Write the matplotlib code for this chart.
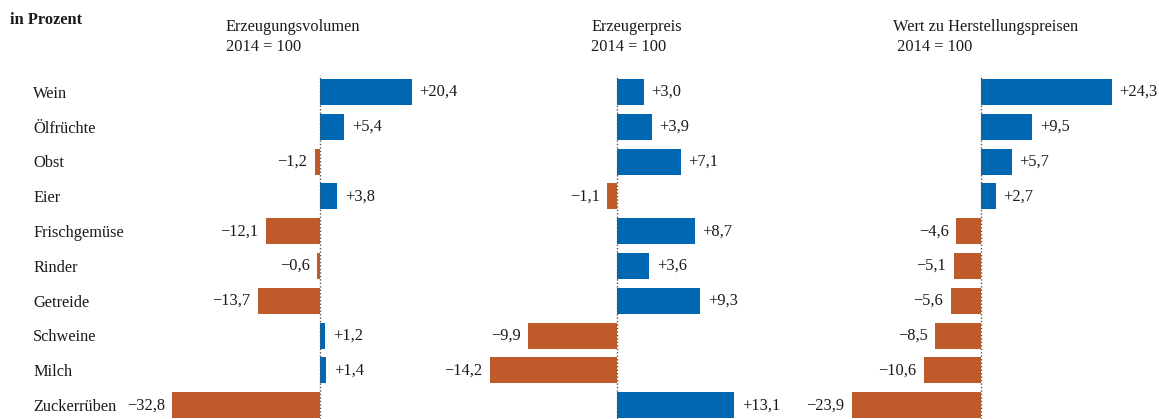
import matplotlib
matplotlib.use("Agg")
import matplotlib.pyplot as plt
import matplotlib.transforms as mtransforms

plt.rcParams["font.family"] = ["Liberation Serif", "DejaVu Serif"]

W, H = 1159, 419

categories = ["Wein", "Ölfrüchte", "Obst", "Eier", "Frischgemüse",
              "Rinder", "Getreide", "Schweine", "Milch", "Zuckerrüben"]
volumen = [20.4, 5.4, -1.2, 3.8, -12.1, -0.6, -13.7, 1.2, 1.4, -32.8]
preis = [3.0, 3.9, 7.1, -1.1, 8.7, 3.6, 9.3, -9.9, -14.2, 13.1]
wert = [24.3, 9.5, 5.7, 2.7, -4.6, -5.1, -5.6, -8.5, -10.6, -23.9]
titles = ["Erzeugungsvolumen\n2014 = 100", "Erzeugerpreis\n2014 = 100",
          "Wert zu Herstellungspreisen\n 2014 = 100"]

BLUE = "#0068b3"
ORANGE = "#bf5a2a"
TEXT = "#1a1a1a"
FS = 11.8

# zero position (px) and px per unit for each panel
panels = [(volumen, 320, 4.5, 226), (preis, 617, 8.95, 591), (wert, 981, 5.39, 893)]

ROW0, ROWSTEP = 92, 34.8
TOP, BOTTOM = 75, 419


def fmt(v):
    s = "{:.1f}".format(abs(v)).replace(".", ",")
    return ("+" if v > 0 else "\u2212") + s


fig = plt.figure(figsize=(W / 100, H / 100), dpi=100)

axes = []
for (vals, zero, scale, title_x), title in zip(panels, titles):
    left, right = zero - 160, zero + 160
    ax = fig.add_axes([left / W, 1 - BOTTOM / H, (right - left) / W, (BOTTOM - TOP) / H])
    ax.set_xlim((left - zero) / scale, (right - zero) / scale)
    ax.set_ylim((BOTTOM - ROW0) / ROWSTEP, -(ROW0 - TOP) / ROWSTEP)
    colors = [BLUE if v > 0 else ORANGE for v in vals]
    ax.barh(range(len(vals)), vals, height=0.75, color=colors, zorder=2)
    ax.axvline(0, color="#555555", lw=1, ls=(0, (1, 1.5)), zorder=3)
    for i, v in enumerate(vals):
        ax.annotate(fmt(v), (v, i), xytext=(5.5 if v > 0 else -5.5, 0),
                    textcoords="offset points", va="center",
                    ha="left" if v > 0 else "right", fontsize=FS, color=TEXT,
                    annotation_clip=False)
    ax.axis("off")
    fig.text(title_x / W, 1 - 19 / H, title, ha="left", va="top",
             fontsize=FS, color=TEXT, linespacing=1.3)
    axes.append(ax)

trans = mtransforms.blended_transform_factory(fig.transFigure, axes[0].transData)
for i, c in enumerate(categories):
    axes[0].text(33 / W, i + 0.05, c, transform=trans, ha="left", va="center",
                 fontsize=FS, color=TEXT)

fig.text(10 / W, 1 - 12 / H, "in Prozent", ha="left", va="top",
         fontsize=FS, fontweight="bold", color=TEXT)

fig.savefig("out.png", dpi=100)
